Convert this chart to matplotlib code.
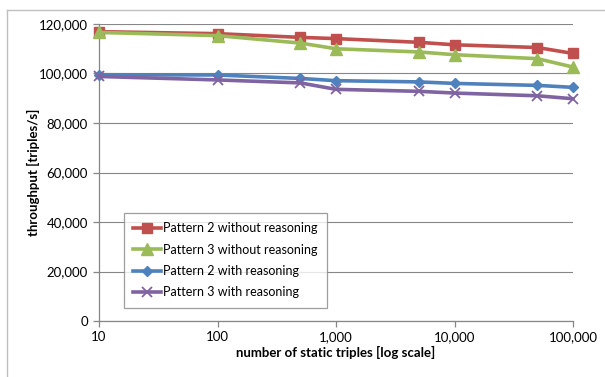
import matplotlib
matplotlib.use("Agg")
import matplotlib.pyplot as plt
from matplotlib.lines import Line2D
from matplotlib.ticker import FuncFormatter, FixedLocator

plt.rcParams['font.family'] = ['Lato', 'DejaVu Sans']

x_vals = [10, 100, 500, 1000, 5000, 10000, 50000, 100000]
p2_without = [116900, 116100, 114600, 114100, 112600, 111600, 110500, 108100]
p3_without = [116600, 115300, 112300, 110000, 108700, 107600, 106000, 102600]
p2_with = [99500, 99400, 98000, 97100, 96600, 96000, 95200, 94400]
p3_with = [98800, 97400, 96200, 93600, 92800, 92100, 91000, 89800]

series_labels = ["Pattern 2 without reasoning", "Pattern 3 without reasoning",
                 "Pattern 2 with reasoning", "Pattern 3 with reasoning"]
x_ticks = [10, 100, 1000, 10000, 100000]
y_ticks = [0, 20000, 40000, 60000, 80000, 100000, 120000]

W, H = 605, 377
fig = plt.figure(figsize=(W / 100, H / 100), dpi=100)
ax = fig.add_axes([99 / W, 1 - 321 / H, (573 - 99) / W, (321 - 24) / H])

styles = [
    dict(color="#C0504D", marker="s", markersize=7.5),
    dict(color="#9BBB59", marker="^", markersize=8.5),
    dict(color="#4F81BD", marker="D", markersize=5.5),
    dict(color="#8064A2", marker="x", markersize=7, markeredgewidth=1.3),
]
for data, lab, st in zip([p2_without, p3_without, p2_with, p3_with], series_labels, styles):
    ax.plot(x_vals, data, label=lab, linewidth=2.6, zorder=3, clip_on=False, **st)

ax.set_xscale("log")
ax.set_xlim(10, 100000)
ax.set_ylim(0, 120000)
ax.xaxis.set_major_locator(FixedLocator(x_ticks))
ax.xaxis.set_minor_locator(FixedLocator([]))
ax.yaxis.set_major_locator(FixedLocator(y_ticks))
fmt = FuncFormatter(lambda v, p: f"{int(round(v)):,}")
ax.xaxis.set_major_formatter(fmt)
ax.yaxis.set_major_formatter(fmt)

ax.grid(axis="y", color="#868686", linewidth=0.8, zorder=0)
for s in ["top", "right"]:
    ax.spines[s].set_visible(False)
for s in ["left", "bottom"]:
    ax.spines[s].set_color("#868686")
    ax.spines[s].set_linewidth(0.9)
ax.tick_params(axis="both", colors="#868686", labelcolor="black", labelsize=9.5,
               length=4, width=0.9, direction="out")
ax.tick_params(axis="x", pad=3)
ax.tick_params(axis="y", pad=4)

ax.set_xlabel("number of static triples [log scale]", fontsize=9.5, fontweight="bold", labelpad=2.5)
ax.set_ylabel("throughput [triples/s]", fontsize=9.5, fontweight="bold")
ax.yaxis.set_label_coords((33 - 99) / (573 - 99), 0.5)
ax.yaxis.label.set_verticalalignment("center")

leg = ax.legend(loc="upper left", bbox_to_anchor=((124 - 99) / (573 - 99), (321 - 213) / (321 - 24)),
                fontsize=9, frameon=True, fancybox=False, handlelength=2.2,
                borderpad=0.75, labelspacing=0.75, handletextpad=0.2, borderaxespad=0)
leg.get_frame().set_edgecolor("#868686")
leg.get_frame().set_linewidth(0.9)

# outer chart-area border (top and left visible)
fig.add_artist(Line2D([7 / W, 1], [1 - 9.5 / H, 1 - 9.5 / H], color="#BFBFBF", linewidth=1.0, transform=fig.transFigure))
fig.add_artist(Line2D([7 / W, 7 / W], [0, 1 - 9.5 / H], color="#BFBFBF", linewidth=1.0, transform=fig.transFigure))

fig.savefig("out.png", dpi=100)
